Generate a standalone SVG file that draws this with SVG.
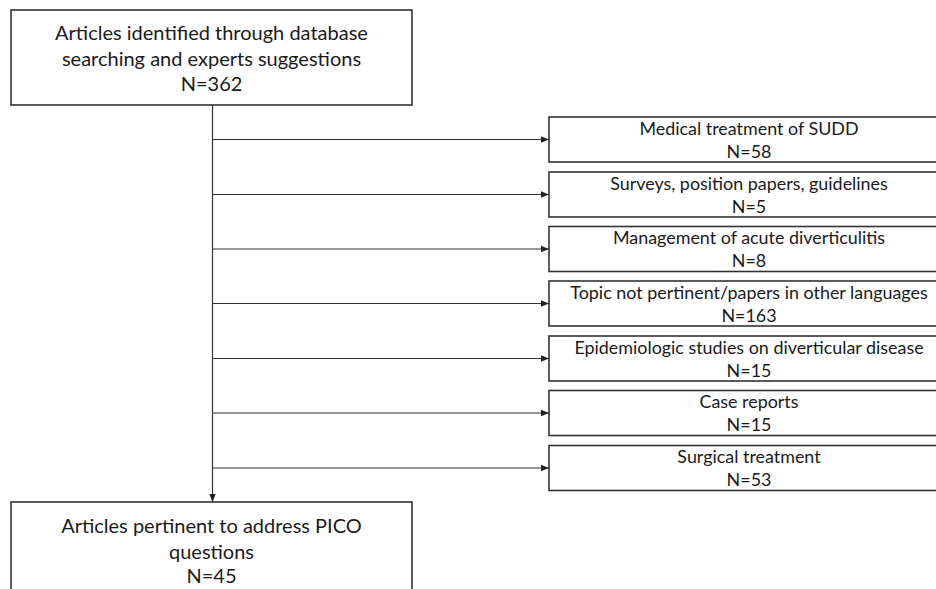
<svg xmlns="http://www.w3.org/2000/svg" width="936" height="589" viewBox="0 0 936 589">
<defs>
<style>
.box{fill:#fff;stroke:#333;stroke-width:1.6}
.conn{fill:none;stroke:#333;stroke-width:1.2}
.t{font-family:Lato,"Open Sans","Liberation Sans",sans-serif;fill:#1a1a1a;text-anchor:middle}
.big{font-size:20px}
.sm{font-size:17.9px}
</style>
<marker id="ah" viewBox="0 0 10 10" refX="10" refY="5" markerWidth="8" markerHeight="8" markerUnits="userSpaceOnUse" orient="auto">
<path d="M0,1 L10,5 L0,9 Z" fill="#222"/>
</marker>
</defs>
<rect width="936" height="589" fill="#fff"/>
<g id="connectors">
<line class="conn" x1="212.5" y1="105" x2="212.5" y2="502" marker-end="url(#ah)"/>
<line class="conn" x1="212.5" y1="139.5" x2="549" y2="139.5" marker-end="url(#ah)"/>
<line class="conn" x1="212.5" y1="194.5" x2="549" y2="194.5" marker-end="url(#ah)"/>
<line class="conn" x1="212.5" y1="249" x2="549" y2="249" marker-end="url(#ah)"/>
<line class="conn" x1="212.5" y1="303.5" x2="549" y2="303.5" marker-end="url(#ah)"/>
<line class="conn" x1="212.5" y1="358.5" x2="549" y2="358.5" marker-end="url(#ah)"/>
<line class="conn" x1="212.5" y1="413" x2="549" y2="413" marker-end="url(#ah)"/>
<line class="conn" x1="212.5" y1="468" x2="549" y2="468" marker-end="url(#ah)"/>
</g>
<g id="n-identified">
<rect class="box" x="11" y="10" width="401" height="95"/>
<text class="t big" x="211.5" y="40">Articles identified through database</text>
<text class="t big" x="211.5" y="66">searching and experts suggestions</text>
<text class="t big" x="211.5" y="91">N=362</text>
</g>
<g id="n-medical">
<rect class="box" x="549" y="117" width="400" height="45"/>
<text class="t sm" x="749" y="134.5">Medical treatment of SUDD</text>
<text class="t sm" x="749" y="157.5">N=58</text>
</g>
<g id="n-surveys">
<rect class="box" x="549" y="172" width="400" height="45"/>
<text class="t sm" x="749" y="189.5">Surveys, position papers, guidelines</text>
<text class="t sm" x="749" y="212.5">N=5</text>
</g>
<g id="n-acute">
<rect class="box" x="549" y="226.5" width="400" height="45"/>
<text class="t sm" x="749" y="244">Management of acute diverticulitis</text>
<text class="t sm" x="749" y="267">N=8</text>
</g>
<g id="n-topic">
<rect class="box" x="549" y="281" width="400" height="45"/>
<text class="t sm" x="749" y="298.5">Topic not pertinent/papers in other languages</text>
<text class="t sm" x="749" y="321.5">N=163</text>
</g>
<g id="n-epidemio">
<rect class="box" x="549" y="336" width="400" height="45"/>
<text class="t sm" x="749" y="353.5">Epidemiologic studies on diverticular disease</text>
<text class="t sm" x="749" y="376.5">N=15</text>
</g>
<g id="n-case">
<rect class="box" x="549" y="390.5" width="400" height="45"/>
<text class="t sm" x="749" y="408">Case reports</text>
<text class="t sm" x="749" y="431">N=15</text>
</g>
<g id="n-surgical">
<rect class="box" x="549" y="445.5" width="400" height="45"/>
<text class="t sm" x="749" y="463">Surgical treatment</text>
<text class="t sm" x="749" y="486">N=53</text>
</g>
<g id="n-pertinent">
<rect class="box" x="11" y="502" width="401" height="100"/>
<text class="t big" x="211.5" y="533">Articles pertinent to address PICO</text>
<text class="t big" x="211.5" y="559">questions</text>
<text class="t big" x="211.5" y="583">N=45</text>
</g>
</svg>
